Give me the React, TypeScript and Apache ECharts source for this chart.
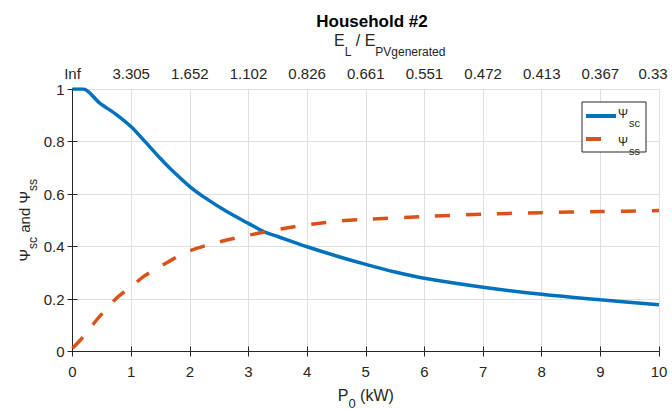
import React, { useEffect, useRef } from "react";
import * as echarts from "echarts";

const p0Sc = [0, 0.18, 0.47, 0.72, 1, 1.21, 1.5, 1.66, 2, 2.23, 2.63, 3, 3.26, 3.5, 4, 4.5, 5, 5.5, 6, 7, 8, 9, 10];
const scValues = [1, 1, 0.945, 0.907, 0.856, 0.806, 0.735, 0.698, 0.628, 0.59, 0.533, 0.488, 0.457, 0.438, 0.399, 0.364, 0.332, 0.303, 0.279, 0.245, 0.218, 0.197, 0.178];
const p0Ss = [0, 0.2, 0.41, 0.6, 0.78, 1, 1.21, 1.44, 1.7, 1.92, 2.41, 2.94, 3.51, 4.05, 4.59, 5, 6, 7, 8, 9, 10];
const ssValues = [0.012, 0.06, 0.12, 0.168, 0.209, 0.247, 0.285, 0.317, 0.35, 0.377, 0.412, 0.44, 0.465, 0.484, 0.498, 0.503, 0.514, 0.523, 0.529, 0.533, 0.537];
const topLabels = ["Inf", "3.305", "1.652", "1.102", "0.826", "0.661", "0.551", "0.472", "0.413", "0.367", "0.33"];
const legendNames = ["sc", "ss"];

const FONT = "Liberation Sans";
const BLUE = "#0072BD";
const RED = "#D95319";
const INK = "#262626";

export default function App() {
  const ref = useRef<HTMLDivElement>(null);
  useEffect(() => {
    document.body.style.margin = "0";
    const chart = echarts.init(ref.current!, null, { renderer: "svg" });
    const axisLine = { show: true, lineStyle: { color: INK, width: 1 } };
    const tick = { show: true, inside: true, length: 5, lineStyle: { color: INK } };
    const subRich = (size: number, subSize: number, lh: number, pad: number) => ({
      n: { fontFamily: FONT, fontSize: size, color: INK, lineHeight: lh, verticalAlign: "top", fontWeight: "normal" },
      s: { fontFamily: FONT, fontSize: subSize, color: INK, lineHeight: lh, verticalAlign: "bottom", padding: [pad, 0, 0, 0], fontWeight: "normal" },
    });
    chart.setOption({
      animation: false,
      backgroundColor: "#ffffff",
      textStyle: { fontFamily: FONT },
      title: [
        {
          text: "Household #2",
          left: 367,
          top: 8,
          textAlign: "center",
          textStyle: { fontFamily: FONT, fontSize: 17, fontWeight: "bold", color: "#000" },
        },
        {
          text: "{n|E}{s|L}{n| / E}{s|PVgenerated}",
          left: 329,
          top: 27,
          textAlign: "left",
          textStyle: { rich: subRich(16, 12, 26, 10) },
        },
      ],
      grid: { left: 72.5, right: 13, top: 89, bottom: 58.5, containLabel: false, outerBoundsMode: "none" },
      graphic: [
        {
          type: "rect",
          shape: { x: 582, y: 102, width: 64, height: 50 },
          style: { fill: "#fff", stroke: INK, lineWidth: 1 },
          z: 100,
        },
        {
          type: "line",
          shape: { x1: 586, y1: 116, x2: 616, y2: 116 },
          style: { stroke: BLUE, lineWidth: 4 },
          z: 101,
        },
        {
          type: "line",
          shape: { x1: 586, y1: 139, x2: 601, y2: 139 },
          style: { stroke: RED, lineWidth: 4 },
          z: 101,
        },
        ...legendNames.map((nm, i) => ({
          type: "text",
          x: 618,
          y: 108 + i * 28,
          z: 101,
          style: {
            text: `{a|Ψ}{b|${nm}}`,
            rich: {
              a: { fontFamily: FONT, fontSize: 12, fill: INK, lineHeight: 20, verticalAlign: "top" },
              b: { fontFamily: FONT, fontSize: 11, fill: INK, lineHeight: 20, verticalAlign: "bottom", padding: [6, 0, 0, 1] },
            },
          },
        })),
      ],
      xAxis: [
        {
          type: "value",
          position: "bottom",
          min: 0,
          max: 10,
          interval: 1,
          axisLine,
          axisTick: tick,
          axisLabel: { fontFamily: FONT, fontSize: 15, color: INK, margin: 12 },
          splitLine: { show: true, lineStyle: { color: "#dfdfdf", width: 1 } },
          name: "{n|P}{s|0}{n| (kW)}",
          nameLocation: "middle",
          nameGap: 36,
          nameMoveOverlap: false,
          nameTextStyle: { rich: subRich(16, 13, 22, 9) },
        },
        {
          type: "value",
          position: "top",
          min: 0,
          max: 10,
          interval: 1,
          axisLine,
          axisTick: tick,
          axisLabel: {
            fontFamily: FONT,
            fontSize: 15,
            color: INK,
            margin: 8,
            formatter: (v: number) => {
              const i = Math.round(v);
              const t = topLabels[i] ?? "";
              return i === topLabels.length - 1 ? `{last|${t}}` : t;
            },
            rich: {
              last: { fontFamily: FONT, fontSize: 15, color: INK, padding: [0, 12, 0, 0] },
            },
          },
          splitLine: { show: false },
        },
      ],
      yAxis: [
        {
          type: "value",
          position: "left",
          min: 0,
          max: 1,
          interval: 0.2,
          axisLine,
          axisTick: tick,
          axisLabel: {
            fontFamily: FONT,
            fontSize: 15,
            color: INK,
            margin: 8,
            formatter: (v: number) => String(Math.round(v * 10) / 10),
          },
          splitLine: { show: true, lineStyle: { color: "#dfdfdf", width: 1 } },
          name: "{n|Ψ}{s|sc}{n| and Ψ}{s|ss}",
          nameLocation: "middle",
          nameRotate: 90,
          nameGap: 34,
          nameMoveOverlap: false,
          nameTextStyle: { rich: subRich(15, 12, 22, 9) },
        },
        {
          type: "value",
          position: "right",
          min: 0,
          max: 1,
          interval: 0.2,
          axisLine,
          axisTick: tick,
          axisLabel: { show: false },
          splitLine: { show: false },
        },
      ],
      series: [
        {
          name: "sc",
          type: "line",
          xAxisIndex: 0,
          yAxisIndex: 0,
          data: p0Sc.map((x, i) => [x, scValues[i]]),
          showSymbol: false,
          symbol: "none",
          smooth: 0.3,
          lineStyle: { color: BLUE, width: 3.5 },
          itemStyle: { color: BLUE },
        },
        {
          name: "ss",
          type: "line",
          xAxisIndex: 0,
          yAxisIndex: 0,
          data: p0Ss.map((x, i) => [x, ssValues[i]]),
          showSymbol: false,
          symbol: "none",
          smooth: 0.3,
          lineStyle: { color: RED, width: 3.5, type: [15, 16] },
          itemStyle: { color: RED },
        },
      ],
    });
    return () => chart.dispose();
  }, []);
  return <div ref={ref} style={{ width: 672, height: 410 }} />;
}
